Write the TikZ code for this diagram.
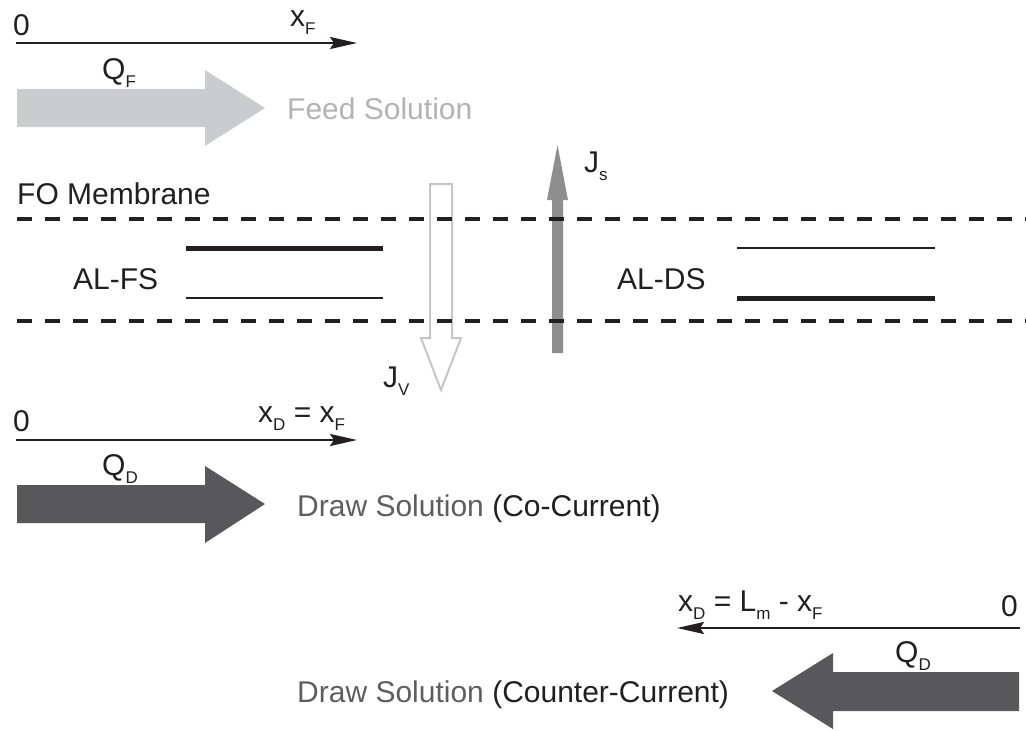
\documentclass[tikz,border=0pt]{standalone}
\usepackage{fontspec}
\setmainfont{Liberation Sans}
\usetikzlibrary{arrows.meta,positioning}
\definecolor{ink}{HTML}{231F20}
\definecolor{feedgray}{HTML}{CBCCCD}
\definecolor{feedtext}{HTML}{B3B3B3}
\definecolor{drawgray}{HTML}{58585A}
\definecolor{drawtext}{HTML}{5E5E5E}
\definecolor{jsgray}{HTML}{8E8E90}
\definecolor{jvgray}{HTML}{C6C6C6}
\newcommand{\sub}[1]{\raisebox{-8pt}{\fontsize{17}{17}\selectfont #1}}

\begin{document}
\begin{tikzpicture}[%
    x=1pt, y=-1pt,
    font=\fontsize{30}{36}\selectfont,
    txt/.style={anchor=base west, inner sep=0pt, text=ink},
    axis/.style={%
        draw=ink,
        line width=2.5pt,
        -{Stealth[length=27pt,width=12pt,inset=4pt]},
    },
    membrane/.style={draw=ink, line width=4pt, dash pattern=on 15pt off 13pt},
    thicklayer/.style={draw=ink, line width=5pt},
    thinlayer/.style={draw=ink, line width=2pt},
    feed/.style={fill=feedgray},
    drawsol/.style={fill=drawgray},
]
\useasboundingbox (0,0) rectangle (1026,731);

    % feed side
    \coordinate (f0) at (16,43);
    \coordinate (f1) at (357,43);
    \draw[axis] (f0) -- (f1);
    \node[txt] (f0lbl) at (13,35) {0};
    \node[txt] (f1lbl) at (290,26) {x\sub{F}};
    \node[txt] (qf) at (102,79) {Q\sub{F}};
    \fill[feed] (17,89) -- (205,89) -- (205,70) -- (265,108) -- (205,146)
        -- (205,127) -- (17,127) -- cycle;
    \node[txt, text=feedtext] (feedlbl) at (287,119) {Feed Solution};

    % fluxes
    \draw[draw=jvgray, line width=2pt] (430,184) -- (452,184) -- (452,338)
        -- (461,338) -- (441,390) -- (421,338) -- (430,338) -- cycle;
    \node[txt] (jv) at (383,387) {J\sub{V}};
    \fill[jsgray] (552,353) -- (552,200) -- (547,200) -- (557.5,145)
        -- (568,200) -- (563,200) -- (563,353) -- cycle;
    \node[txt] (js) at (584,172) {J\sub{s}};

    % membrane
    \node[txt] (fo) at (17,204) {FO Membrane};
    \foreach \y/\n in {219/mtop,321/mbot}{%
        \coordinate (\n w) at (17,\y);
        \coordinate (\n e) at (1026,\y);
        \draw[membrane] (\n w) -- (\n e);
    }
    \draw[thicklayer] (186,248) -- (383,248);
    \draw[thinlayer] (186,298) -- (383,298);
    \node[txt] (alfs) at (73,289) {AL-FS};
    \draw[thinlayer] (737,248) -- (935,248);
    \draw[thicklayer] (737,298) -- (935,298);
    \node[txt] (alds) at (617,289) {AL-DS};

    % draw side, co-current
    \coordinate (c0) at (16,440);
    \coordinate (c1) at (357,440);
    \draw[axis] (c0) -- (c1);
    \node[txt] (c0lbl) at (13,431) {0};
    \node[txt] (c1lbl) at (258,422) {x\sub{D} = x\sub{F}};
    \node[txt] (qdco) at (102,475) {Q\sub{D}};
    \fill[drawsol] (17,485) -- (205,485) -- (205,466) -- (265,504) -- (205,543)
        -- (205,523) -- (17,523) -- cycle;
    \node[txt] (colbl) at (297,516) {\textcolor{drawtext}{Draw Solution} (Co-Current)};

    % draw side, counter-current
    \coordinate (k0) at (1020,628);
    \coordinate (k1) at (677,628);
    \draw[axis] (k0) -- (k1);
    \node[txt, anchor=base east] (k0lbl) at (1018,616) {0};
    \node[txt] (k1lbl) at (678,611) {x\sub{D} = L\sub{m} - x\sub{F}};
    \node[txt] (qdcounter) at (895,662) {Q\sub{D}};
    \fill[drawsol] (1019,672) -- (833,672) -- (833,653) -- (772,691) -- (833,729)
        -- (833,711) -- (1019,711) -- cycle;
    \node[txt] (counterlbl) at (297,702) {\textcolor{drawtext}{Draw Solution} (Counter-Current)};
\end{tikzpicture}
\end{document}
